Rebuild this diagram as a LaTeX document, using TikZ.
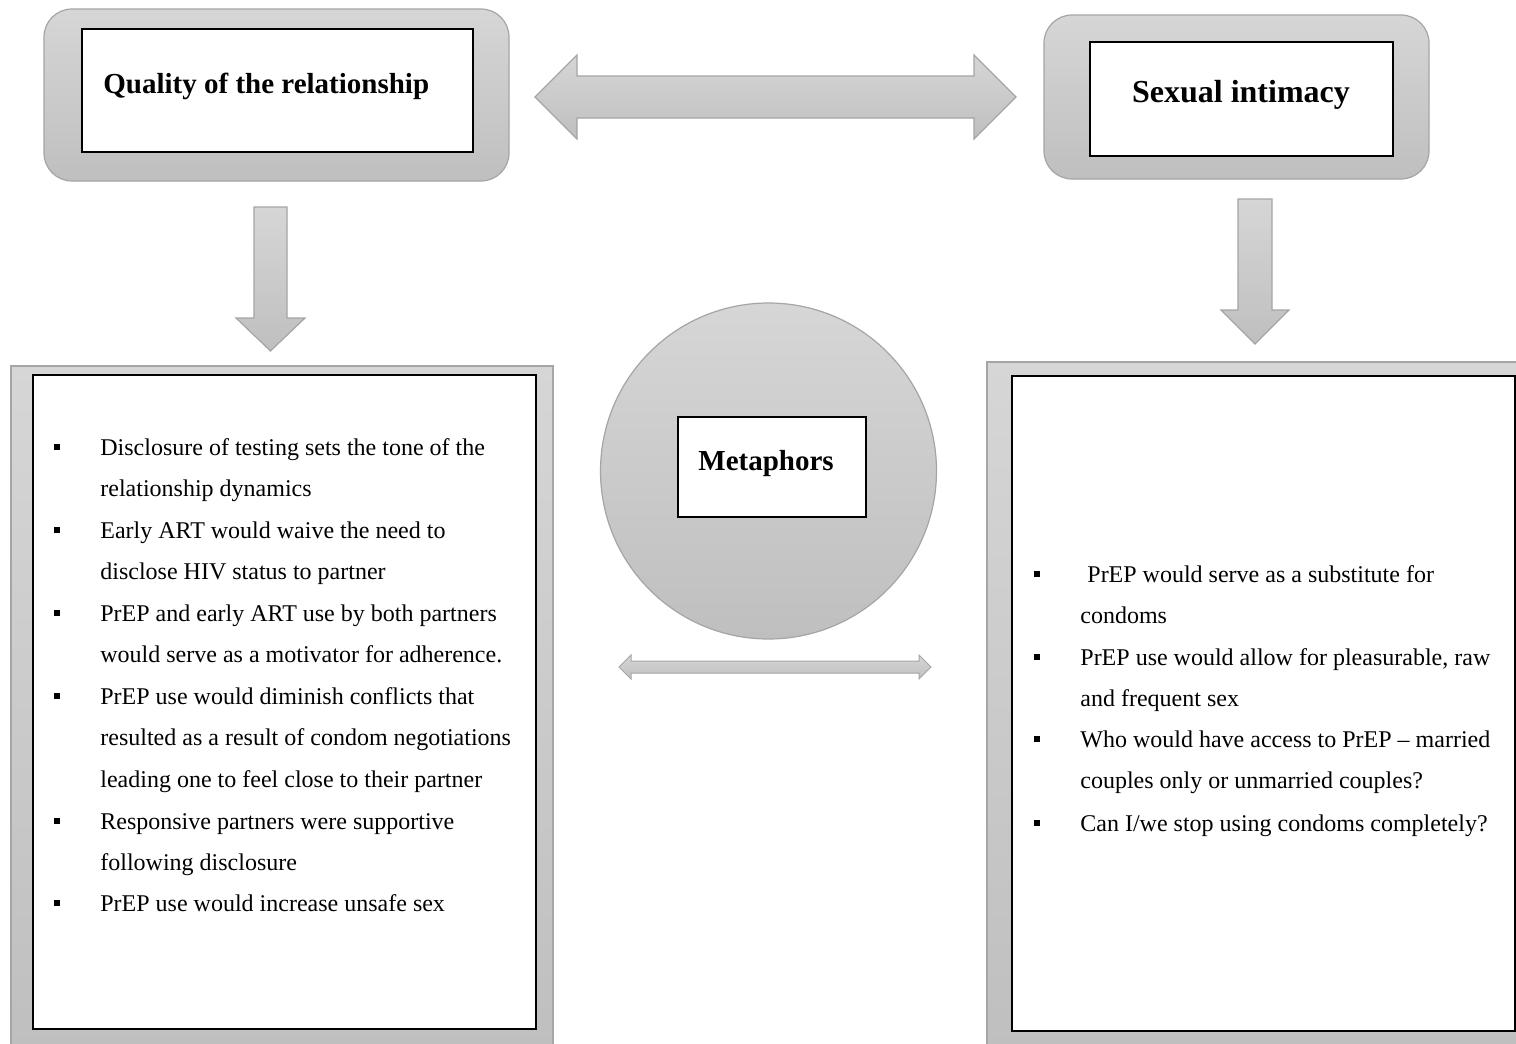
\documentclass[tikz,border=0pt]{standalone}
\usepackage{fontspec}
\setmainfont{Liberation Serif}
\definecolor{gtop}{RGB}{214,214,214}
\definecolor{gbot}{RGB}{191,191,191}
\definecolor{gedge}{RGB}{165,165,165}
\newcommand{\itemlines}[1]{\begin{tabular}[t]{@{}l@{}}#1\end{tabular}}
\tikzset{
  shadedshape/.style={top color=gtop, bottom color=gbot, draw=gedge, line width=0.6pt},
  roundbox/.style={shadedshape, rectangle, rounded corners=14pt, inner sep=0pt},
  panelbox/.style={shadedshape, rectangle, inner sep=0pt},
  whitebox/.style={draw=black, fill=white, line width=0.8pt, rectangle, inner sep=0pt},
  titletext/.style={font=\fontsize{14.5}{17}\selectfont\bfseries, inner sep=0pt},
  itemtext/.style={anchor=base west, font=\fontsize{12}{20.75}\selectfont, inner sep=0pt},
  bulletmark/.style={fill=black, rectangle, minimum size=3pt, inner sep=0pt},
  blockarrow/.style={shadedshape, line join=miter}
}
\begin{document}
\begin{tikzpicture}[x=0.5pt,y=-0.5pt]
\useasboundingbox (0,0) rectangle (1516,1044);
\fill[white] (0,0) rectangle (1516,1044);

% top-left
\node[roundbox, minimum width=232.5pt, minimum height=86pt] (qout) at (276.5,95) {};
\node[whitebox, minimum width=195.5pt, minimum height=61.5pt] (qin) at (277.5,90.5) {};
\node[titletext, anchor=base west] (qtxt) at (103,93) {Quality of the relationship};

% top-right
\node[roundbox, minimum width=192.5pt, minimum height=82pt] (sout) at (1236.5,97) {};
\node[whitebox, minimum width=151.5pt, minimum height=57pt] (sin) at (1241.5,99) {};
\node[titletext, font=\fontsize{16}{19}\selectfont\bfseries, anchor=base] (stxt) at (1241,102) {Sexual intimacy};

% top double arrow
\draw[blockarrow] (535,97) -- (577,55) -- (577,76) -- (974,76) -- (974,55) -- (1016,97)
  -- (974,139) -- (974,118) -- (577,118) -- (577,139) -- cycle;

% down arrows
\draw[blockarrow] (254,207) -- (287,207) -- (287,318) -- (305,318) -- (270.5,351)
  -- (236,318) -- (254,318) -- cycle;
\draw[blockarrow] (1238,199) -- (1272,199) -- (1272,310) -- (1289,310) -- (1255,344)
  -- (1221,310) -- (1238,310) -- cycle;

% bottom panels
\path[panelbox] (11,366) rectangle (553,1050);
\node[whitebox, minimum width=251.5pt, minimum height=327pt, anchor=north west] (lin) at (32,374) {};
\path[panelbox] (987,362) rectangle (1522,1050);
\node[whitebox, minimum width=251.5pt, minimum height=327.5pt, anchor=north west] (rin) at (1011,375) {};

% circle
\node[shadedshape, circle, minimum size=168pt, inner sep=0pt] (circ) at (768.5,471) {};
\node[whitebox, minimum width=94pt, minimum height=50pt] (min) at (772,467) {};
\node[titletext, anchor=base west] (mtxt) at (698,470) {Metaphors};

% small double arrow
\draw[blockarrow, line width=0.5pt] (619,667) -- (631,655) -- (631,661) -- (919,661) -- (919,655) -- (931,667)
  -- (919,679) -- (919,673) -- (631,673) -- (631,679) -- cycle;

% left items
\node[itemtext] (l1) at (100,455) {\itemlines{Disclosure of testing sets the tone of the\\relationship dynamics}};
\node[itemtext] (l2) at (100,538) {\itemlines{Early ART would waive the need to\\disclose HIV status to partner}};
\node[itemtext] (l3) at (100,621) {\itemlines{PrEP and early ART use by both partners\\would serve as a motivator for adherence.}};
\node[itemtext] (l4) at (100,704) {\itemlines{PrEP use would diminish conflicts that\\resulted as a result of condom negotiations\\leading one to feel close to their partner}};
\node[itemtext] (l5) at (100,829) {\itemlines{Responsive partners were supportive\\following disclosure}};
\node[itemtext] (l6) at (100,911) {PrEP use would increase unsafe sex};
\foreach \y in {455,538,621,704,829,911}
  \node[bulletmark] at (57,\y-8) {};

% right items
\node[itemtext] (r1) at (1080,582) {\itemlines{\hspace{3.5pt}PrEP would serve as a substitute for\\condoms}};
\node[itemtext] (r2) at (1080,665) {\itemlines{PrEP use would allow for pleasurable, raw\\and frequent sex}};
\node[itemtext] (r3) at (1080,747) {\itemlines{Who would have access to PrEP – married\\couples only or unmarried couples?}};
\node[itemtext] (r4) at (1080,831) {Can I/we stop using condoms completely?};
\foreach \y in {582,665,747,831}
  \node[bulletmark] at (1037,\y-8) {};
\end{tikzpicture}
\end{document}
